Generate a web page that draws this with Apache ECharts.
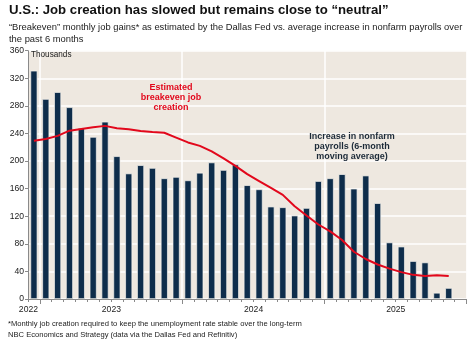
<!DOCTYPE html>
<html>
<head>
<meta charset="utf-8">
<script src="https://cdn.jsdelivr.net/npm/echarts@6/dist/echarts.min.js"></script>
<style>html,body{margin:0;padding:0;background:#fff;}#c{width:475px;height:345px;}</style>
</head>
<body>
<div id="c"></div>
<script>
const categories = ['Jun 2022','Jul 2022','Aug 2022','Sep 2022','Oct 2022','Nov 2022','Dec 2022',
  'Jan 2023','Feb 2023','Mar 2023','Apr 2023','May 2023','Jun 2023','Jul 2023','Aug 2023','Sep 2023','Oct 2023','Nov 2023','Dec 2023',
  'Jan 2024','Feb 2024','Mar 2024','Apr 2024','May 2024','Jun 2024','Jul 2024','Aug 2024','Sep 2024','Oct 2024','Nov 2024','Dec 2024',
  'Jan 2025','Feb 2025','Mar 2025','Apr 2025','May 2025','Jun 2025'];
const payrolls6m = [331,290,300,278,248,235,257,207,182,194,190,175,177,172,183,198,187,195,165,159,134,133,121,132,171,175,181,160,179,139,82,76,55,53,9,16,null];
const breakeven = [229.5,232,236.5,244,246.5,249,251,247.5,246,243.5,242,241,234,227,222,214,204,193,181,171,161,151,134.5,121,108,98,85.5,68.5,58,50,44,39,35,33.5,34.5,33.5,null];
const yearLabels = {'Jun 2022':'2022','Jan 2023':'2023','Jan 2024':'2024','Jan 2025':'2025'};
const yTicks = {min:0, max:360, interval:40};

const FF = 'Liberation Sans, Arial, sans-serif';
const chart = echarts.init(document.getElementById('c'), null, {renderer:'canvas'});
const majorFn = (i) => i % 12 === 1;
chart.setOption({
  animation:false,
  backgroundColor:'#ffffff',
  textStyle:{fontFamily:FF},
  title:[
    {text:'U.S.: Job creation has slowed but remains close to \u201cneutral\u201d', left:4, top:-1,
     textStyle:{fontSize:13.2, fontWeight:'bold', color:'#111', fontFamily:FF}},
    {text:'\u201cBreakeven\u201d monthly job gains* as estimated by the Dallas Fed vs. average increase in nonfarm payrolls over\nthe past 6 months',
     left:4, top:16, textStyle:{fontSize:9.4, fontWeight:'normal', color:'#222', lineHeight:12, fontFamily:FF}},
    {text:'*Monthly job creation required to keep the unemployment rate stable over the long-term', left:3, top:315,
     textStyle:{fontSize:7.6, fontWeight:'normal', color:'#222', fontFamily:FF}},
    {text:'NBC Economics and Strategy (data via the Dallas Fed and Refinitiv)', left:3, top:326,
     textStyle:{fontSize:7.6, fontWeight:'normal', color:'#222', fontFamily:FF}}
  ],
  grid:{left:28, right:8.5, top:50.7, bottom:46, show:true, backgroundColor:'#EEE8E0', borderWidth:0, containLabel:false},
  xAxis:[
    {type:'category', data:categories, position:'bottom',
     axisLine:{show:true, lineStyle:{color:'#8a8a8a', width:1}},
     axisTick:{show:true, interval:0, length:3, lineStyle:{color:'#8a8a8a'}},
     axisLabel:{show:true, interval:(i,v)=> yearLabels[v] !== undefined, formatter:(v)=> yearLabels[v] || '',
       fontSize:8.6, color:'#222', margin:6, padding:[0,11,0,0]},
     splitLine:{show:false}},
    {type:'category', data:categories, position:'bottom', offset:0,
     axisLine:{show:false},
     axisTick:{show:true, interval:majorFn, length:5, lineStyle:{color:'#8a8a8a'}},
     axisLabel:{show:false},
     splitLine:{show:true, interval:majorFn, lineStyle:{color:'#ffffff', width:1.5}}}
  ],
  yAxis:{type:'value', min:yTicks.min, max:yTicks.max, interval:yTicks.interval,
    axisLine:{show:true, lineStyle:{color:'#8a8a8a'}},
    axisTick:{show:true, length:3, lineStyle:{color:'#8a8a8a'}},
    axisLabel:{fontSize:8.6, color:'#222', margin:4},
    splitLine:{show:true, lineStyle:{color:'#ffffff', width:1.5}}},
  series:[
    {type:'bar', name:'Increase in nonfarm payrolls (6-month moving average)', data:payrolls6m, xAxisIndex:0,
     barWidth:7, itemStyle:{color:'#0E2D4B', borderColor:'#f7f3ee', borderWidth:0.7}, z:2},
    {type:'line', name:'Estimated breakeven job creation', data:breakeven, xAxisIndex:0,
     showSymbol:false, symbol:'none', lineStyle:{color:'#E2081C', width:2}, z:3}
  ],
  graphic:[
    {type:'text', left:31, top:51, style:{text:'Thousands', font:'8.2px '+FF, fill:'#222'}, z:10},
    {type:'text', x:171, y:83, style:{text:'Estimated\nbreakeven job\ncreation', font:'bold 9px '+FF, fill:'#E2081C', textAlign:'center', lineHeight:10}, z:10},
    {type:'text', x:352, y:131.5, style:{text:'Increase in nonfarm\npayrolls (6-month\nmoving average)', font:'bold 9px '+FF, fill:'#1c2a38', textAlign:'center', lineHeight:10}, z:10}
  ]
});
</script>
</body>
</html>
